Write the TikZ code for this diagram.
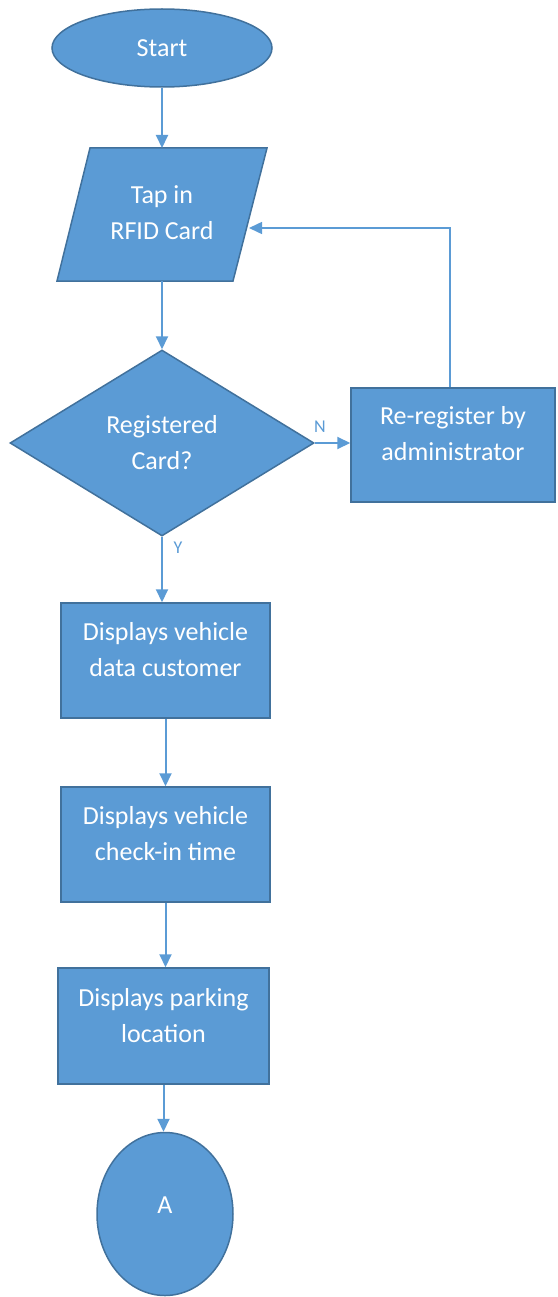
\documentclass[tikz,border=0pt]{standalone}
\usepackage{fontspec}
\setmainfont{Carlito}
\usetikzlibrary{shapes.geometric,arrows.meta}
\definecolor{boxfill}{HTML}{5B9BD5}
\definecolor{boxline}{HTML}{41719C}
\definecolor{arrowc}{HTML}{5B9BD5}
\begin{document}
\begin{tikzpicture}[x=1pt,y=-1pt,
  shapebox/.style={draw=boxline, fill=boxfill, line width=1.5pt, inner sep=0pt, line join=miter},
  txt/.style={text=white, align=center, inner sep=0pt, font=\fontsize{26}{36}\selectfont},
  lbl/.style={text=arrowc, inner sep=0pt, font=\fontsize{18}{20}\selectfont},
  conn/.style={draw=arrowc, line width=2pt, -{Triangle[length=13pt,width=12pt]}}]
\useasboundingbox (0,0) rectangle (557,1297);
% Start
\node[shapebox, ellipse, minimum width=220pt, minimum height=78pt] (start) at (162,48) {};
\node[txt] (starttxt) at (162,48) {Start};
% Tap in (parallelogram)
\draw[shapebox] (90,148) -- (267,148) -- (233,281) -- (57,281) -- cycle;
\coordinate (taptop) at (162,148);
\coordinate (tapbot) at (162,281);
\coordinate (tapright) at (249,228);
\node[txt] (taptxt) at (162,213) {Tap in\\RFID Card};
% Decision
\node[shapebox, diamond, minimum width=304pt, minimum height=186pt] (dec) at (162,443) {};
\node[txt] (dectxt) at (162,443) {Registered\\Card?};
% Re-register
\node[shapebox, rectangle, minimum width=204pt, minimum height=114pt] (rereg) at (453,445) {};
\node[txt] (reregtxt) at (453,434) {Re-register by\\administrator};
% Boxes
\node[shapebox, rectangle, minimum width=209pt, minimum height=115pt] (b1) at (165.5,660.5) {};
\node[txt] (b1txt) at (165.5,650) {Displays vehicle\\data customer};
\node[shapebox, rectangle, minimum width=209pt, minimum height=115pt] (b2) at (165.5,844.5) {};
\node[txt] (b2txt) at (165.5,834) {Displays vehicle\\check-in time};
\node[shapebox, rectangle, minimum width=211pt, minimum height=116pt] (b3) at (163.5,1026) {};
\node[txt] (b3txt) at (163.5,1016) {Displays parking\\location};
% Connector A
\node[shapebox, ellipse, minimum width=136pt, minimum height=163pt] (conA) at (165,1214) {};
\node[txt] (conAtxt) at (165,1205) {A};
% Connectors
\draw[conn] (start.south) -- (taptop);
\draw[conn] (tapbot) -- (dec.north);
\draw[conn] (dec.east) -- (dec.east -| rereg.west);
\draw[conn, line width=1.5pt] ([xshift=-3pt]rereg.north) |- (tapright);
\draw[conn] (dec.south) -- (dec.south |- b1.north);
\draw[conn] (b1.south) -- (b2.north);
\draw[conn] (b2.south) -- (b2.south |- b3.north);
\draw[conn] (b3.south) -- (b3.south |- conA.north);
% Labels
\node[lbl] (nlbl) at (320,427) {N};
\node[lbl] (ylbl) at (178,548) {Y};
\end{tikzpicture}
\end{document}
